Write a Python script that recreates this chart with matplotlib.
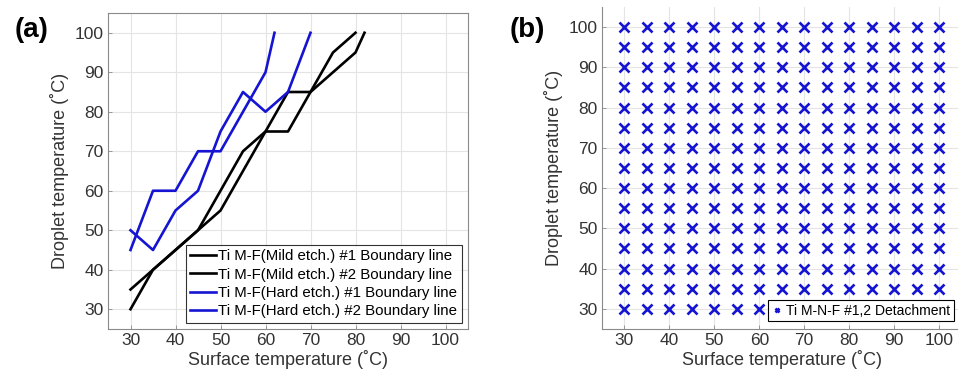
"""
Boundary lines (a) and detachment map (b) for droplet vs surface temperature.
Output: out.png
"""

import numpy as np
import matplotlib.pyplot as plt

plt.rcParams["font.family"] = ["Liberation Sans", "DejaVu Sans"]

# (a) boundary lines
mild1_x = [30, 35, 40, 45, 50, 55, 60, 65, 70, 75, 80, 82]
mild1_y = [35, 40, 45, 50, 55, 65, 75, 85, 85, 90, 95, 100]
mild2_x = [30, 35, 40, 45, 50, 55, 60, 65, 70, 75, 80]
mild2_y = [30, 40, 45, 50, 60, 70, 75, 75, 85, 95, 100]
hard1_x = [30, 35, 40, 45, 50, 55, 60, 62]
hard1_y = [45, 60, 60, 70, 70, 80, 90, 100]
hard2_x = [30, 35, 40, 45, 50, 55, 60, 65, 70]
hard2_y = [50, 45, 55, 60, 75, 85, 80, 85, 100]

# (b) tested grid, all detached
grid_surface = [30, 35, 40, 45, 50, 55, 60, 65, 70, 75, 80, 85, 90, 95, 100]
grid_droplet = [30, 35, 40, 45, 50, 55, 60, 65, 70, 75, 80, 85, 90, 95, 100]

ticks = [30, 40, 50, 60, 70, 80, 90, 100]

BLUE = "#1414d2"
SPINE = "#8a8a8a"
GRID = "#e4e4e4"
W, H = 958, 378


def style_axes(ax, box=True):
    ax.set_xlim(25, 105)
    ax.set_ylim(25, 105)
    ax.set_xticks(ticks)
    ax.set_yticks(ticks)
    ax.grid(True, color=GRID, linewidth=0.8)
    ax.set_axisbelow(True)
    ax.tick_params(direction="in", length=3, width=0.6, color=SPINE,
                   labelsize=12.5, labelcolor="#333333", pad=3)
    for name, sp in ax.spines.items():
        sp.set_color(SPINE)
        sp.set_linewidth(0.8)
    if not box:
        ax.spines["top"].set_visible(False)
        ax.spines["right"].set_visible(False)
    ax.set_xlabel("Surface temperature (˚C)", fontsize=13, color="#333333", labelpad=1)
    ax.set_ylabel("Droplet temperature (˚C)", fontsize=13, color="#333333", labelpad=4)


def main():
    fig = plt.figure(figsize=(W / 100, H / 100), dpi=100)

    ax1 = fig.add_axes([108 / W, 1 - 329 / H, 360 / W, 316 / H])
    ax1.plot(mild1_x, mild1_y, color="black", lw=1.9, label="Ti M-F(Mild etch.) #1 Boundary line")
    ax1.plot(mild2_x, mild2_y, color="black", lw=1.9, label="Ti M-F(Mild etch.) #2 Boundary line")
    ax1.plot(hard1_x, hard1_y, color=BLUE, lw=1.9, label="Ti M-F(Hard etch.) #1 Boundary line")
    ax1.plot(hard2_x, hard2_y, color=BLUE, lw=1.9, label="Ti M-F(Hard etch.) #2 Boundary line")
    style_axes(ax1, box=True)
    leg = ax1.legend(loc="lower right", fontsize=10.8, frameon=True, fancybox=False,
                     handlelength=1.7, handletextpad=0.2, borderpad=0.3,
                     labelspacing=0.3, borderaxespad=0.4)
    leg.get_frame().set_edgecolor("black")
    leg.get_frame().set_linewidth(0.8)

    ax2 = fig.add_axes([602 / W, 1 - 329 / H, 359.5 / W, 322 / H])
    sx, dy = np.meshgrid(grid_surface, grid_droplet)
    ax2.plot(sx.ravel(), dy.ravel(), "x", color=BLUE, ms=6.5, mew=1.9, ls="none",
             label="Ti M-N-F #1,2 Detachment")
    style_axes(ax2, box=False)
    leg2 = ax2.legend(loc="lower right", fontsize=10, frameon=True, fancybox=False,
                      markerscale=0.45, handlelength=0.8, handletextpad=0.3,
                      borderpad=0.25, borderaxespad=0.55, framealpha=1)
    leg2.get_frame().set_edgecolor("black")
    leg2.get_frame().set_linewidth(0.8)

    fig.text(15 / W, 1 - 30 / H, "(a)", fontsize=20, fontweight="bold", va="center", ha="left")
    fig.text(510 / W, 1 - 30 / H, "(b)", fontsize=20, fontweight="bold", va="center", ha="left")

    fig.savefig("out.png", dpi=100)
    plt.close(fig)


if __name__ == "__main__":
    main()
